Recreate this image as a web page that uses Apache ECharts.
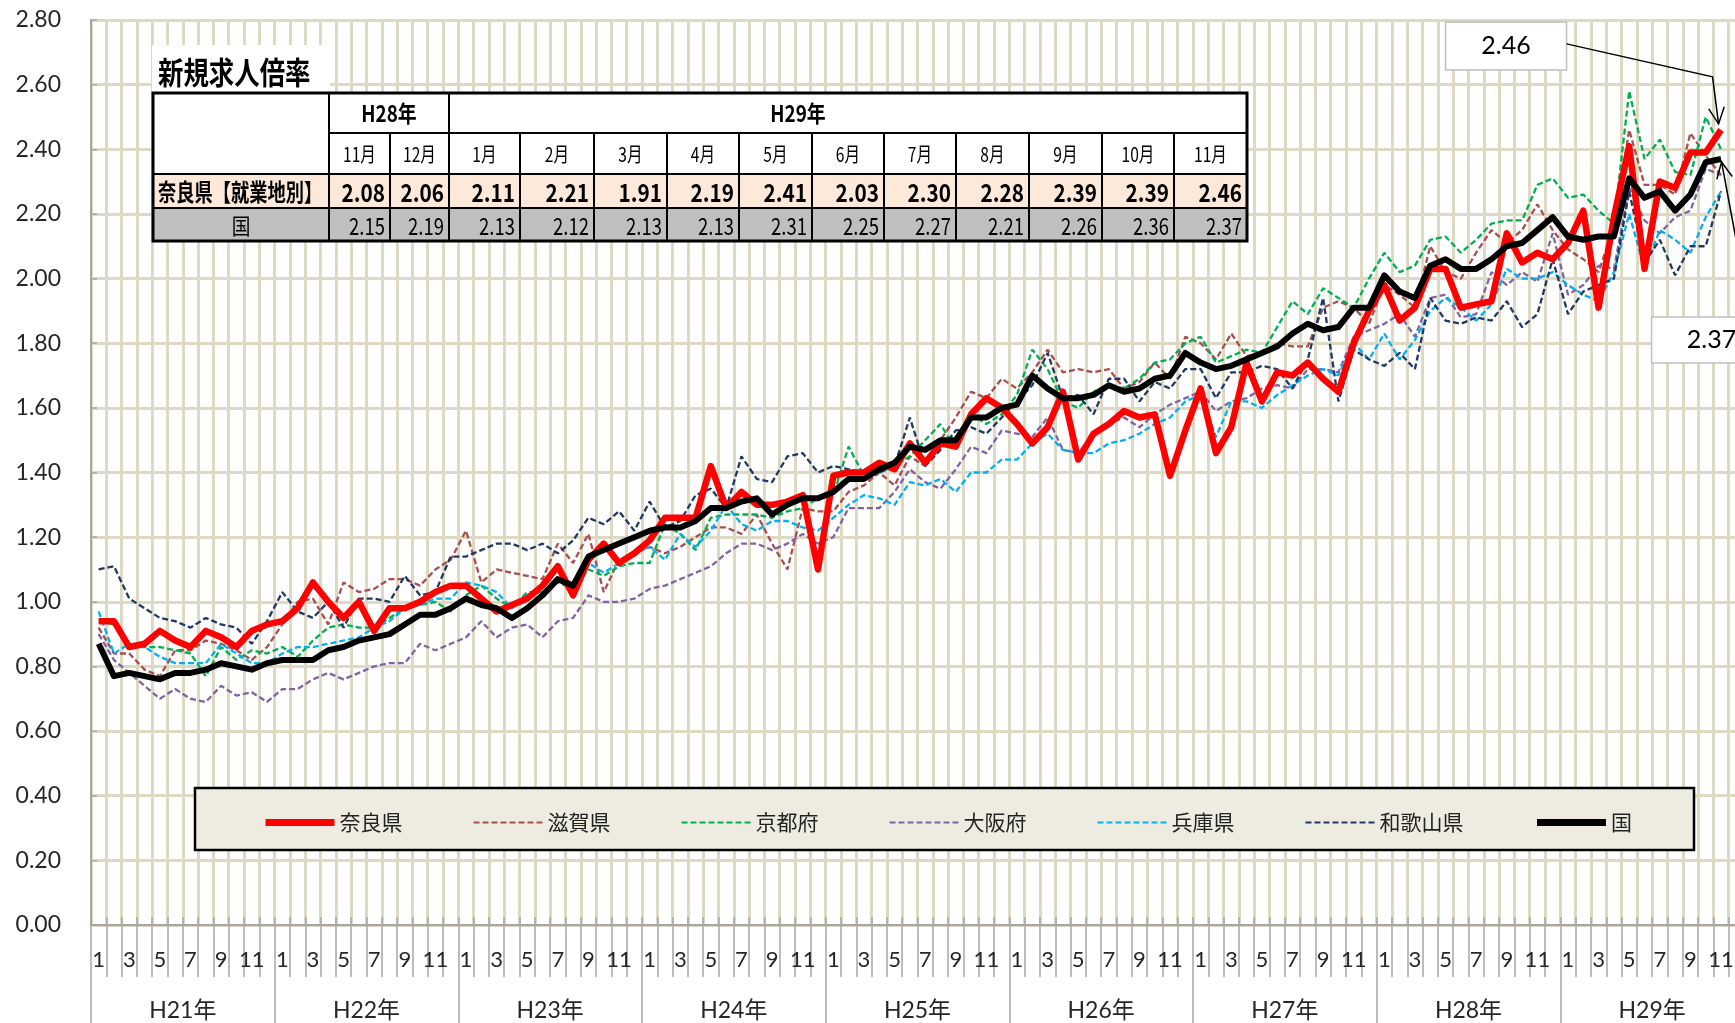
<!DOCTYPE html>
<html>
<head>
<meta charset="utf-8">
<script src="https://cdn.jsdelivr.net/npm/echarts@6/dist/echarts.min.js"></script>
<style>
  html, body { margin: 0; padding: 0; background: #fff; }
  #chart { width: 1735px; height: 1023px; }
</style>
</head>
<body>
<div id="chart"></div>
<script>
// 年（第2階層のラベル）
var years = ['H21年', 'H22年', 'H23年', 'H24年', 'H25年', 'H26年', 'H27年', 'H28年', 'H29年'];
// 月（第1階層のラベル）
var monthNames = ['1', '2', '3', '4', '5', '6', '7', '8', '9', '10', '11', '12'];

// 新規求人倍率 H21年1月〜H29年11月
var nara = [
  0.94, 0.94, 0.86, 0.87, 0.91, 0.88, 0.86, 0.91, 0.89, 0.86, 0.91, 0.93,
  0.94, 0.98, 1.06, 1.00, 0.95, 1.00, 0.91, 0.98, 0.98, 1.00, 1.03, 1.05,
  1.05, 1.01, 0.97, 0.99, 1.01, 1.05, 1.11, 1.02, 1.13, 1.18, 1.12, 1.15,
  1.19, 1.26, 1.26, 1.26, 1.42, 1.29, 1.34, 1.30, 1.30, 1.31, 1.33, 1.10,
  1.39, 1.40, 1.40, 1.43, 1.41, 1.49, 1.43, 1.49, 1.48, 1.58, 1.63, 1.60,
  1.55, 1.49, 1.54, 1.65, 1.44, 1.52, 1.55, 1.59, 1.57, 1.58, 1.39, 1.53,
  1.66, 1.46, 1.54, 1.74, 1.62, 1.71, 1.70, 1.74, 1.69, 1.65, 1.80, 1.90,
  1.98, 1.87, 1.91, 2.03, 2.03, 1.91, 1.92, 1.93, 2.14, 2.05, 2.08, 2.06,
  2.11, 2.21, 1.91, 2.19, 2.41, 2.03, 2.30, 2.28, 2.39, 2.39, 2.46
];
var shiga = [
  0.92, 0.84, 0.84, 0.79, 0.77, 0.85, 0.85, 0.88, 0.87, 0.85, 0.82, 0.86,
  0.93, 1.00, 1.01, 0.93, 1.06, 1.03, 1.04, 1.07, 1.07, 1.05, 1.10, 1.13,
  1.22, 1.06, 1.10, 1.09, 1.08, 1.07, 1.18, 1.12, 1.21, 1.03, 1.13, 1.15,
  1.17, 1.15, 1.17, 1.20, 1.23, 1.23, 1.21, 1.27, 1.18, 1.10, 1.29, 1.28,
  1.28, 1.34, 1.36, 1.40, 1.36, 1.45, 1.42, 1.50, 1.57, 1.65, 1.63, 1.69,
  1.66, 1.71, 1.78, 1.71, 1.72, 1.71, 1.72, 1.66, 1.68, 1.74, 1.69, 1.82,
  1.80, 1.75, 1.83, 1.76, 1.77, 1.80, 1.79, 1.79, 1.91, 1.93, 1.91, 1.86,
  1.98, 1.95, 1.91, 2.10, 2.02, 2.00, 2.08, 2.15, 2.11, 2.15, 2.23, 2.15,
  2.09, 2.06, 2.02, 2.16, 2.46, 2.29, 2.29, 2.26, 2.45, 2.38, 2.32
];
var kyoto = [
  0.94, 0.93, 0.86, 0.86, 0.86, 0.85, 0.84, 0.77, 0.86, 0.82, 0.85, 0.84,
  0.86, 0.83, 0.88, 0.92, 0.93, 0.92, 0.92, 0.95, 0.98, 0.99, 1.00, 0.97,
  1.02, 1.05, 1.01, 0.98, 1.03, 1.03, 1.06, 1.04, 1.10, 1.08, 1.11, 1.12,
  1.12, 1.24, 1.21, 1.16, 1.26, 1.27, 1.27, 1.27, 1.26, 1.28, 1.29, 1.32,
  1.33, 1.48, 1.39, 1.40, 1.42, 1.45, 1.50, 1.55, 1.47, 1.58, 1.55, 1.58,
  1.64, 1.78, 1.72, 1.62, 1.60, 1.65, 1.67, 1.66, 1.69, 1.74, 1.75, 1.80,
  1.82, 1.74, 1.76, 1.78, 1.77, 1.85, 1.93, 1.89, 1.97, 1.94, 1.91, 2.00,
  2.08, 2.02, 2.04, 2.12, 2.13, 2.08, 2.12, 2.17, 2.18, 2.18, 2.29, 2.31,
  2.25, 2.26, 2.21, 2.17, 2.58, 2.37, 2.43, 2.33, 2.32, 2.50, 2.40
];
var osaka = [
  0.90, 0.82, 0.78, 0.74, 0.70, 0.73, 0.70, 0.69, 0.74, 0.71, 0.72, 0.69,
  0.73, 0.73, 0.76, 0.78, 0.76, 0.78, 0.80, 0.81, 0.81, 0.87, 0.85, 0.87,
  0.89, 0.94, 0.89, 0.92, 0.93, 0.89, 0.94, 0.95, 1.02, 1.00, 1.00, 1.01,
  1.04, 1.05, 1.07, 1.09, 1.11, 1.15, 1.18, 1.18, 1.16, 1.18, 1.21, 1.18,
  1.20, 1.29, 1.29, 1.29, 1.34, 1.41, 1.37, 1.35, 1.41, 1.48, 1.46, 1.53,
  1.52, 1.51, 1.57, 1.47, 1.46, 1.52, 1.55, 1.57, 1.54, 1.58, 1.61, 1.63,
  1.65, 1.59, 1.62, 1.63, 1.66, 1.67, 1.66, 1.72, 1.72, 1.71, 1.82, 1.84,
  1.86, 1.89, 1.82, 1.94, 1.95, 1.88, 1.89, 2.02, 1.98, 2.02, 1.99, 2.14,
  1.95, 1.98, 2.04, 2.03, 2.28, 2.18, 2.14, 2.19, 2.21, 2.34, 2.32
];
var hyogo = [
  0.97, 0.84, 0.87, 0.86, 0.83, 0.81, 0.81, 0.81, 0.87, 0.84, 0.81, 0.81,
  0.84, 0.86, 0.86, 0.87, 0.88, 0.89, 0.92, 0.94, 0.98, 0.99, 1.01, 1.01,
  1.06, 1.05, 1.03, 0.98, 1.02, 1.03, 1.07, 1.04, 1.12, 1.09, 1.12, 1.15,
  1.17, 1.13, 1.21, 1.17, 1.22, 1.30, 1.24, 1.22, 1.25, 1.25, 1.23, 1.22,
  1.26, 1.30, 1.33, 1.32, 1.30, 1.37, 1.36, 1.38, 1.34, 1.40, 1.40, 1.44,
  1.44, 1.49, 1.52, 1.47, 1.46, 1.46, 1.49, 1.50, 1.52, 1.55, 1.57, 1.62,
  1.64, 1.51, 1.62, 1.62, 1.60, 1.64, 1.67, 1.70, 1.72, 1.70, 1.80, 1.75,
  1.83, 1.75, 1.81, 1.90, 1.94, 1.91, 1.87, 1.92, 2.03, 2.00, 2.00, 2.02,
  1.98, 1.95, 1.93, 2.02, 2.20, 2.03, 2.15, 2.12, 2.08, 2.19, 2.27
];
var wakayama = [
  1.10, 1.11, 1.01, 0.98, 0.95, 0.94, 0.92, 0.95, 0.93, 0.92, 0.87, 0.94,
  1.03, 0.97, 0.95, 1.00, 0.92, 1.01, 1.01, 1.00, 1.08, 1.02, 1.03, 1.14,
  1.14, 1.16, 1.18, 1.18, 1.16, 1.18, 1.15, 1.19, 1.26, 1.24, 1.28, 1.22,
  1.31, 1.23, 1.25, 1.33, 1.35, 1.29, 1.45, 1.38, 1.37, 1.45, 1.46, 1.40,
  1.42, 1.41, 1.40, 1.40, 1.42, 1.57, 1.42, 1.47, 1.53, 1.54, 1.52, 1.57,
  1.62, 1.67, 1.77, 1.63, 1.64, 1.58, 1.69, 1.69, 1.62, 1.68, 1.66, 1.72,
  1.72, 1.63, 1.71, 1.71, 1.73, 1.72, 1.66, 1.75, 1.94, 1.62, 1.78, 1.75,
  1.73, 1.77, 1.72, 1.94, 1.87, 1.86, 1.88, 1.87, 1.93, 1.85, 1.89, 2.06,
  1.89, 1.96, 1.98, 2.00, 2.27, 2.05, 2.12, 2.01, 2.10, 2.10, 2.27
];
var kuni = [
  0.87, 0.77, 0.78, 0.77, 0.76, 0.78, 0.78, 0.79, 0.81, 0.80, 0.79, 0.81,
  0.82, 0.82, 0.82, 0.85, 0.86, 0.88, 0.89, 0.90, 0.93, 0.96, 0.96, 0.98,
  1.01, 0.99, 0.98, 0.95, 0.98, 1.02, 1.07, 1.05, 1.14, 1.16, 1.18, 1.20,
  1.22, 1.23, 1.23, 1.25, 1.29, 1.29, 1.31, 1.32, 1.27, 1.30, 1.32, 1.32,
  1.34, 1.38, 1.38, 1.41, 1.43, 1.48, 1.47, 1.50, 1.50, 1.57, 1.57, 1.60,
  1.61, 1.70, 1.66, 1.63, 1.63, 1.64, 1.67, 1.65, 1.66, 1.69, 1.70, 1.77,
  1.74, 1.72, 1.73, 1.75, 1.77, 1.79, 1.83, 1.86, 1.84, 1.85, 1.91, 1.91,
  2.01, 1.96, 1.94, 2.04, 2.06, 2.03, 2.03, 2.06, 2.10, 2.11, 2.15, 2.19,
  2.13, 2.12, 2.13, 2.13, 2.31, 2.25, 2.27, 2.21, 2.26, 2.36, 2.37
];

// 表（直近13か月）
var tableYears = ['H28年', 'H29年'];
var tableMonths = ['11月', '12月', '1月', '2月', '3月', '4月', '5月', '6月', '7月', '8月', '9月', '10月', '11月'];
var tableRowNames = ['奈良県【就業地別】', '国'];

var FONT = 'Lato, "Noto Sans CJK JP", sans-serif';
var JP = '"Noto Sans CJK JP", sans-serif';

var monthCats = [];
years.forEach(function () {
  monthNames.forEach(function (m) { monthCats.push(m); });
});

function dashed(name, data, color) {
  return {
    name: name, type: 'line', data: data, symbol: 'none',
    lineStyle: { color: color, width: 2.3, type: [6, 3] },
    itemStyle: { color: color },
    z: 2
  };
}
function solid(name, data, color, width) {
  return {
    name: name, type: 'line', data: data, symbol: 'none',
    lineStyle: { color: color, width: width, join: 'round' },
    itemStyle: { color: color },
    z: 3
  };
}

var chart = echarts.init(document.getElementById('chart'));

var option = {
  animation: false,
  backgroundColor: '#fff',
  grid: { left: 91, top: 20, width: 1653, height: 905, containLabel: false, outerBoundsMode: 'none' },
  legend: {
    left: 262, top: 812, padding: 0,
    itemWidth: 69, itemHeight: 14, itemGap: 70,
    selectedMode: false,
    itemStyle: { opacity: 0 },
    textStyle: { fontSize: 21, fontFamily: JP, color: '#222' },
    data: [
      { name: '奈良県', lineStyle: { width: 7 } },
      { name: '滋賀県' },
      { name: '京都府' },
      { name: '大阪府' },
      { name: '兵庫県' },
      { name: '和歌山県' },
      { name: '国', lineStyle: { width: 7 } }
    ]
  },
  xAxis: [
    {
      type: 'category', data: monthCats, position: 'bottom', boundaryGap: true,
      axisLine: { show: true, onZero: false, lineStyle: { color: '#a6a6a6', width: 2 } },
      axisTick: { show: true, interval: 0, length: 52, lineStyle: { color: '#a6a6a6', width: 1.5 } },
      axisLabel: { interval: 1, margin: 24, fontSize: 22, color: '#262626', fontFamily: FONT },
      splitLine: { show: true, interval: 0, lineStyle: { color: '#ddd9c3', width: 3 } }
    },
    {
      type: 'category', data: years, position: 'bottom', boundaryGap: true,
      axisLine: { show: false, onZero: false },
      axisTick: { show: true, interval: 0, length: 100, lineStyle: { color: '#a6a6a6', width: 1.5 } },
      axisLabel: { interval: 0, margin: 74, fontSize: 23, color: '#262626', fontFamily: FONT },
      splitLine: { show: false }
    },
    {
      type: 'category', data: monthCats, position: 'bottom', boundaryGap: true,
      axisLine: { show: false, onZero: false },
      axisTick: { show: true, inside: true, interval: 0, length: 8, lineStyle: { color: '#a6a6a6', width: 1.5 } },
      axisLabel: { show: false },
      splitLine: { show: false }
    }
  ],
  yAxis: {
    type: 'value', min: 0, max: 2.8, interval: 0.2,
    axisLine: { show: true, lineStyle: { color: '#a6a6a6', width: 2 } },
    axisTick: { show: true, inside: true, length: 6, lineStyle: { color: '#a6a6a6', width: 1.5 } },
    axisLabel: {
      margin: 30, fontSize: 23, color: '#262626', fontFamily: FONT,
      formatter: function (v) { return v.toFixed(2); }
    },
    splitLine: { show: true, lineStyle: { color: '#ddd9c3', width: 3 } }
  },
  series: [
    dashed('滋賀県', shiga, '#a5504f'),
    dashed('京都府', kyoto, '#00b050'),
    dashed('大阪府', osaka, '#8064a2'),
    dashed('兵庫県', hyogo, '#00b0f0'),
    dashed('和歌山県', wakayama, '#1f3864'),
    solid('奈良県', nara, '#ff0000', 6.5),
    solid('国', kuni, '#000000', 6)
  ]
};
chart.setOption(option);

// ---- 表・凡例枠・吹き出し ----
function txt(x, y, s, font, align, sx) {
  return {
    type: 'text', x: x, y: y, z: 106, scaleX: sx || 1,
    style: {
      text: s, font: font, fill: '#000',
      align: align, textAlign: align,
      verticalAlign: 'middle', textVerticalAlign: 'middle'
    }
  };
}
function box(x, y, w, h, fill, stroke, lw, z) {
  return {
    type: 'rect', z: z || 100, shape: { x: x, y: y, width: w, height: h },
    style: { fill: fill, stroke: stroke || null, lineWidth: lw || 0 }
  };
}
function seg(x1, y1, x2, y2, lw) {
  return { type: 'line', z: 102, shape: { x1: x1, y1: y1, x2: x2, y2: y2 }, style: { stroke: '#000', lineWidth: lw || 2 } };
}
function poly(points, lw) {
  return { type: 'polyline', z: 104, shape: { points: points }, style: { stroke: '#000', lineWidth: lw || 1.5, fill: null } };
}
function arrowHead(tip, from, len, ang) {
  var dx = from[0] - tip[0], dy = from[1] - tip[1];
  var d = Math.sqrt(dx * dx + dy * dy);
  dx /= d; dy /= d;
  var c = Math.cos(ang), s = Math.sin(ang);
  return [
    [tip[0] + len * (dx * c - dy * s), tip[1] + len * (dx * s + dy * c)],
    tip,
    [tip[0] + len * (dx * c + dy * s), tip[1] + len * (-dx * s + dy * c)]
  ];
}

var cols = [153, 329, 390, 449, 520, 594, 667, 739, 812, 884, 956, 1029, 1102, 1174, 1247];
var rows = [93, 133, 174, 208, 241];
var naraTbl = nara.slice(-tableMonths.length);
var kuniTbl = kuni.slice(-tableMonths.length);

var g = [];
// タイトル
g.push(box(152, 45, 178, 48, '#fff'));
g.push(txt(158, 72, '新規求人倍率', 'bold 31px ' + JP, 'left', 0.82));
// 表の背景
g.push(box(cols[0], rows[0], cols[14] - cols[0], rows[2] - rows[0], '#fff'));
g.push(box(cols[0], rows[2], cols[14] - cols[0], rows[3] - rows[2], '#fde9d9'));
g.push(box(cols[0], rows[3], cols[14] - cols[0], rows[4] - rows[3], '#bfbfbf'));
// 罫線
g.push(seg(cols[1], rows[1], cols[14], rows[1]));
g.push(seg(cols[0], rows[2], cols[14], rows[2]));
g.push(seg(cols[0], rows[3], cols[14], rows[3]));
g.push(seg(cols[1], rows[0], cols[1], rows[4]));
g.push(seg(cols[3], rows[0], cols[3], rows[4]));
for (var c = 2; c < 14; c++) {
  if (c !== 3) g.push(seg(cols[c], rows[1], cols[c], rows[4]));
}
g.push({ type: 'rect', z: 102, shape: { x: cols[0], y: rows[0], width: cols[14] - cols[0], height: rows[4] - rows[0] },
  style: { fill: null, stroke: '#000', lineWidth: 3 } });
// 見出し
g.push(txt((cols[1] + cols[3]) / 2, (rows[0] + rows[1]) / 2, tableYears[0], 'bold 23px ' + JP, 'center', 0.82));
g.push(txt(798, (rows[0] + rows[1]) / 2, tableYears[1], 'bold 23px ' + JP, 'center', 0.82));
tableMonths.forEach(function (m, i) {
  g.push(txt((cols[i + 1] + cols[i + 2]) / 2, (rows[1] + rows[2]) / 2 + 1, m, '20px ' + JP, 'center', 0.78));
  g.push(txt(cols[i + 2] - 5, (rows[2] + rows[3]) / 2 + 1, naraTbl[i].toFixed(2), 'bold 25px ' + JP, 'right', 0.83));
  g.push(txt(cols[i + 2] - 5, (rows[3] + rows[4]) / 2 + 1, kuniTbl[i].toFixed(2), '24px ' + JP, 'right', 0.77));
});
g.push(txt(158, (rows[2] + rows[3]) / 2 + 1, tableRowNames[0], 'bold 24px ' + JP, 'left', 0.76));
g.push(txt((cols[0] + cols[1]) / 2, (rows[3] + rows[4]) / 2 + 1, tableRowNames[1], '22px ' + JP, 'center', 0.85));

// 凡例の枠
g.push({ type: 'rect', z: 3, shape: { x: 195, y: 788, width: 1499, height: 62 },
  style: { fill: '#eeece1', stroke: '#000', lineWidth: 2.5 } });

// 吹き出し（最新月）
var last = nara.length - 1;
var p1 = chart.convertToPixel({ xAxisIndex: 0, yAxisIndex: 0 }, [last, nara[last]]);
var p2 = chart.convertToPixel({ xAxisIndex: 0, yAxisIndex: 0 }, [last, kuni[last]]);

g.push({ type: 'rect', z: 104, shape: { x: p1[0] - 275.5, y: p1[1] - 108, width: 121, height: 48 },
  style: { fill: '#fff', stroke: '#bfbfbf', lineWidth: 1.5 } });
g.push(txt(p1[0] - 215, p1[1] - 84, nara[last].toFixed(2), '25px ' + FONT, 'center'));
var t1 = [p1[0] - 2.5, p1[1] - 6];
var e1 = [p1[0] - 8.5, p1[1] - 53];
g.push(poly([[p1[0] - 154.5, p1[1] - 86], e1, t1], 1.5));
g.push(poly(arrowHead(t1, e1, 18, 0.45), 1.5));

g.push({ type: 'rect', z: 104, shape: { x: p2[0] - 69.5, y: p2[1] + 158, width: 121, height: 46 },
  style: { fill: '#fff', stroke: '#bfbfbf', lineWidth: 1.5 } });
g.push(txt(p2[0] - 9.5, p2[1] + 181, kuni[last].toFixed(2), '25px ' + FONT, 'center'));
var t2 = [p2[0] + 0.5, p2[1] + 3];
var s2 = [p2[0] + 29.5, p2[1] + 158];
g.push(poly([s2, t2], 1.5));
g.push(poly(arrowHead(t2, s2, 18, 0.45), 1.5));

chart.setOption({ graphic: { elements: g } });
</script>
</body>
</html>
